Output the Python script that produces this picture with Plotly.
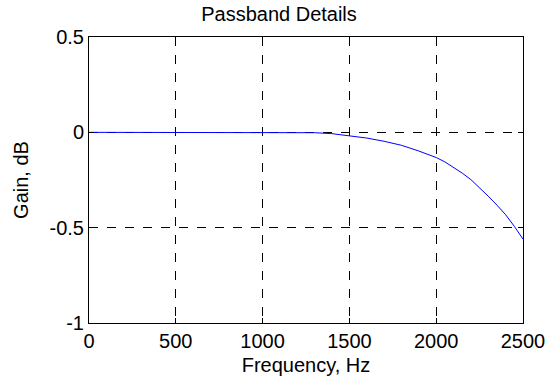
import plotly.graph_objects as go

# Frequency response of the passband (magnitude in dB)
freq_hz = [0, 100, 200, 300, 400, 500, 600, 700, 800, 900, 1000, 1100, 1200,
           1300, 1400, 1500, 1600, 1700, 1800, 1900, 2000, 2050, 2100, 2150,
           2200, 2250, 2300, 2350, 2400, 2450, 2500]
gain_db = [0.0, 0.0, 0.0, 0.0, 0.0, 0.0, 0.0, 0.0, 0.0, 0.0, 0.0, 0.0, 0.0,
           -0.002, -0.007, -0.018, -0.030, -0.047, -0.068, -0.098, -0.132,
           -0.155, -0.183, -0.214, -0.248, -0.290, -0.335, -0.382, -0.432,
           -0.493, -0.560]

x_ticks = [0, 500, 1000, 1500, 2000, 2500]
y_ticks = [-1, -0.5, 0, 0.5]
y_tick_text = ["-1", "-0.5", "0", "0.5"]

font_family = "Liberation Sans, Arial, Helvetica, sans-serif"
font_size = 20

fig = go.Figure()
fig.add_trace(go.Scatter(
    x=freq_hz, y=gain_db, mode="lines",
    line=dict(color="#0000ff", width=1),
    showlegend=False,
))

axis_common = dict(
    showline=True, linecolor="black", linewidth=1, mirror="ticks",
    ticks="inside", ticklen=5, tickcolor="black",
    showgrid=True, gridcolor="black", griddash="dash", gridwidth=1,
    zeroline=False, automargin=False,
    tickfont=dict(family=font_family, size=font_size, color="black"),
)

fig.update_layout(
    width=558, height=385,
    margin=dict(l=89, r=35, t=37, b=62),
    paper_bgcolor="white", plot_bgcolor="white",
    font=dict(family=font_family, size=font_size, color="black"),
    title=dict(text="Passband Details", x=0.5, xanchor="center",
               y=1 - 14 / 385, yanchor="middle",
               font=dict(family=font_family, size=font_size, color="black")),
    xaxis=dict(range=[0, 2500], tickvals=x_ticks,
               title=dict(text="Frequency, Hz", standoff=6,
                          font=dict(family=font_family, size=font_size)),
               **axis_common),
    yaxis=dict(range=[-1, 0.5], tickvals=y_ticks, ticktext=y_tick_text,
               title=dict(text="Gain, dB", standoff=15,
                          font=dict(family=font_family, size=font_size)),
               **axis_common),
)

fig.write_html("out.html")
